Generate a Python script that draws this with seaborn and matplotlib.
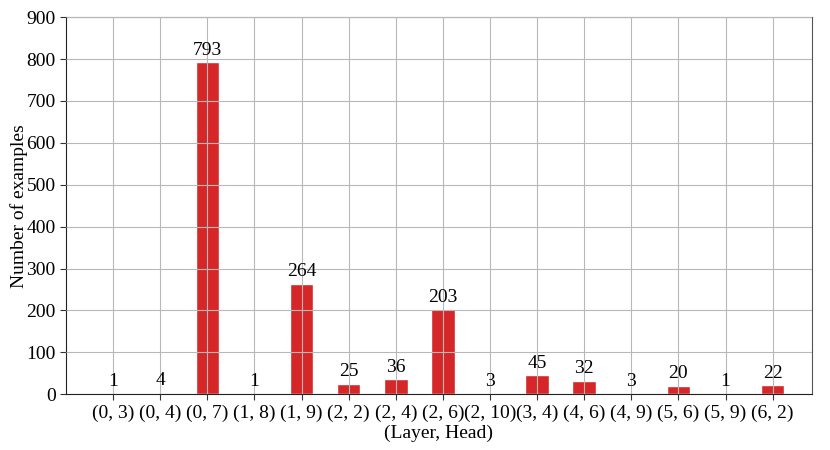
import numpy as np
import pandas as pd
import seaborn as sns
import matplotlib.pyplot as plt

heads = ["(0, 3)", "(0, 4)", "(0, 7)", "(1, 8)", "(1, 9)", "(2, 2)", "(2, 4)", "(2, 6)",
         "(2, 10)", "(3, 4)", "(4, 6)", "(4, 9)", "(5, 6)", "(5, 9)", "(6, 2)"]
counts = [1, 4, 793, 1, 264, 25, 36, 203, 3, 45, 32, 3, 20, 1, 22]

df = pd.DataFrame({"head": heads, "count": counts})

sns.set_style("whitegrid")
plt.rcParams['font.family'] = ['Liberation Serif', 'DejaVu Serif']
plt.rcParams['text.color'] = 'black'
plt.rcParams['axes.labelcolor'] = 'black'
plt.rcParams['xtick.color'] = 'black'
plt.rcParams['ytick.color'] = 'black'

fig, ax = plt.subplots(figsize=(8.3, 4.5), dpi=100)
fig.subplots_adjust(left=0.0795, right=0.978, top=0.962, bottom=0.124)

sns.barplot(data=df, x="head", y="count", color="#d62728", width=0.5,
            saturation=1, ax=ax)
ax.set_axisbelow(False)
ax.grid(True, color="#b8b8b8", linewidth=0.8)

for i, c in enumerate(counts):
    ax.text(i, c + 8, str(c), ha="center", va="bottom", fontsize=14)

ax.set_xlim(-1.0, 14.83)
ax.set_ylim(0, 900)
ax.set_yticks(range(0, 901, 100))
ax.set_xlabel("(Layer, Head)", fontsize=14, labelpad=2)
ax.set_ylabel("Number of examples", fontsize=14, labelpad=-1)
ax.tick_params(axis="both", labelsize=14, length=4, bottom=True, left=True,
               color="#333333")
for s in ["left", "bottom"]:
    ax.spines[s].set_color("#222222")
for s in ["top", "right"]:
    ax.spines[s].set_color("#555555")

plt.savefig("out.png")
